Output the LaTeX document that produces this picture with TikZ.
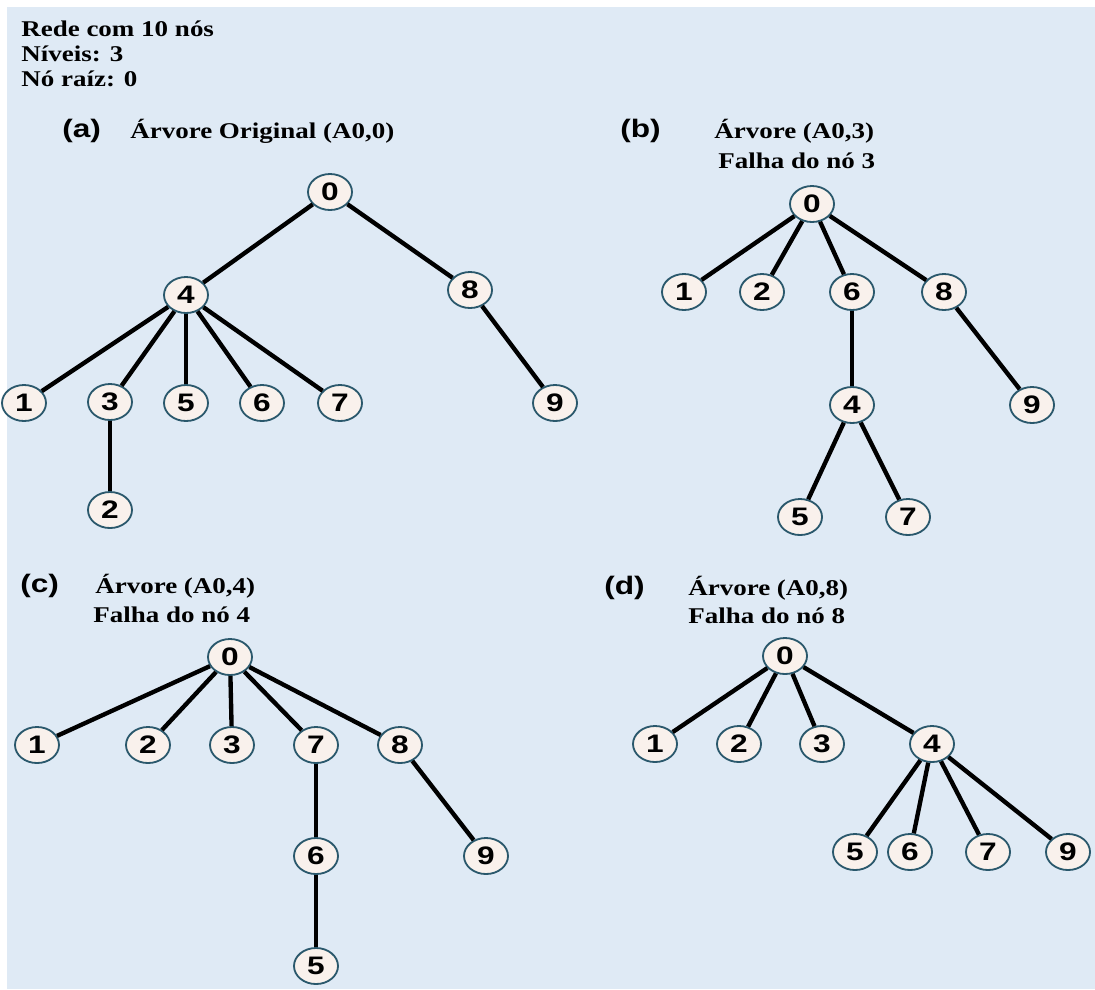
\documentclass[tikz,border=0pt]{standalone}
\usepackage{fontspec}
\setmainfont{Liberation Serif}[FakeStretch=1.2]
\newfontfamily\labelfont{Liberation Sans}[FakeStretch=1.25]
\usepackage{tikz}
\usetikzlibrary{shapes.geometric}

\definecolor{paper}{RGB}{223,234,245}
\definecolor{nodefill}{RGB}{249,241,236}
\definecolor{nodeline}{RGB}{42,88,108}

\begin{document}
\begin{tikzpicture}[x=0.025cm, y=-0.025cm,
	vert/.style={ellipse, draw=nodeline, line width=1.3pt, fill=nodefill, minimum width=1.1cm, minimum height=0.9cm, inner sep=0pt, font=\labelfont\bfseries\fontsize{18}{18}\selectfont},
	edge/.style={line width=3.1pt, black},
	tag/.style={anchor=west, inner sep=0pt, font=\labelfont\bfseries\fontsize{18}{20}\selectfont},
	note/.style={anchor=west, inner sep=0pt, font=\bfseries\fontsize{16}{17.5}\selectfont}]
				\useasboundingbox (0,0) rectangle (1095,989);
				\fill[paper] (7,7) rectangle (1095,989);
				
				% network summary
				\node[note, anchor=north west, align=left] (info) at (21,21) {Rede com 10 nós\\Níveis: 3\\Nó raíz: 0};
				
				% (a) original tree
				\node[tag] (ta) at (62,131) {(a)};
				\node[note] (na) at (130,131) {Árvore Original (A0,0)};
				\node[vert] (a0) at (330,192) {0};
				\node[vert] (a4) at (186,295) {4};
				\node[vert] (a8) at (470,290) {8};
				\node[vert] (a1) at (24,403) {1};
				\node[vert] (a3) at (110,402) {3};
				\node[vert] (a5) at (186,403) {5};
				\node[vert] (a6) at (262,403) {6};
				\node[vert] (a7) at (340,403) {7};
				\node[vert] (a9) at (555,403) {9};
				\node[vert] (a2) at (110,510) {2};
				\foreach \u/\v in {0/4, 0/8, 4/1, 4/3, 4/5, 4/6, 4/7, 3/2, 8/9}
					\draw[edge] (a\u) -- (a\v);
				
				% (b) node 3 fails
				\node[tag] (tb) at (620,131) {(b)};
				\node[note] (nb) at (714,131) {Árvore (A0,3)};
				\node[note] (fb) at (718,161) {Falha do nó 3};
				\node[vert] (b0) at (812,204) {0};
				\node[vert] (b1) at (684,292) {1};
				\node[vert] (b2) at (762,292) {2};
				\node[vert] (b6) at (852,292) {6};
				\node[vert] (b8) at (944,292) {8};
				\node[vert] (b4) at (852,405) {4};
				\node[vert] (b9) at (1032,405) {9};
				\node[vert] (b5) at (800,517) {5};
				\node[vert] (b7) at (908,517) {7};
				\foreach \u/\v in {0/1, 0/2, 0/6, 0/8, 6/4, 4/5, 4/7, 8/9}
					\draw[edge] (b\u) -- (b\v);
				
				% (c) node 4 fails
				\node[tag] (tc) at (20,586) {(c)};
				\node[note] (nc) at (95,586) {Árvore (A0,4)};
				\node[note] (fc) at (93,615) {Falha do nó 4};
				\node[vert] (c0) at (230,657) {0};
				\node[vert] (c1) at (37,745) {1};
				\node[vert] (c2) at (148,745) {2};
				\node[vert] (c3) at (232,745) {3};
				\node[vert] (c7) at (316,745) {7};
				\node[vert] (c8) at (400,745) {8};
				\node[vert] (c6) at (316,856) {6};
				\node[vert] (c9) at (486,856) {9};
				\node[vert] (c5) at (316,966) {5};
				\foreach \u/\v in {0/1, 0/2, 0/3, 0/7, 0/8, 7/6, 6/5, 8/9}
					\draw[edge] (c\u) -- (c\v);
				
				% (d) node 8 fails
				\node[tag] (td) at (604,588) {(d)};
				\node[note] (nd) at (688,588) {Árvore (A0,8)};
				\node[note] (fd) at (688,616) {Falha do nó 8};
				\node[vert] (d0) at (785,656) {0};
				\node[vert] (d1) at (655,744) {1};
				\node[vert] (d2) at (739,744) {2};
				\node[vert] (d3) at (822,744) {3};
				\node[vert] (d4) at (932,744) {4};
				\node[vert] (d5) at (855,852) {5};
				\node[vert] (d6) at (910,852) {6};
				\node[vert] (d7) at (988,852) {7};
				\node[vert] (d9) at (1068,852) {9};
				\foreach \u/\v in {0/1, 0/2, 0/3, 0/4, 4/5, 4/6, 4/7, 4/9}
					\draw[edge] (d\u) -- (d\v);
			\end{tikzpicture}
\end{document}
